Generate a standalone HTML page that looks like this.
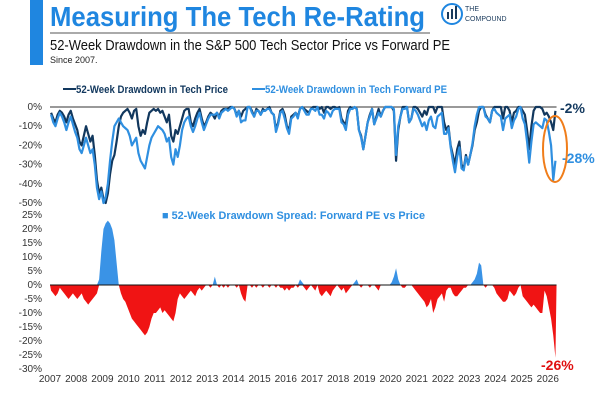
<!DOCTYPE html>
<html><head><meta charset="utf-8"><style>
body{margin:0;background:#fff;width:600px;height:400px;overflow:hidden;font-family:"Liberation Sans",sans-serif}
</style></head><body>
<svg width="600" height="400" xmlns="http://www.w3.org/2000/svg" style="font-family:'Liberation Sans',sans-serif">
<rect x="30" y="0" width="13" height="65" fill="#1f86e0"/>
<text x="50" y="26" font-size="28" font-weight="bold" fill="#1f86e0" textLength="375" lengthAdjust="spacingAndGlyphs">Measuring The Tech Re-Rating</text>
<line x1="50" y1="33" x2="430" y2="33" stroke="#555" stroke-width="1"/>
<g>
<circle cx="452" cy="14" r="10" fill="none" stroke="#1f86e0" stroke-width="2"/>
<rect x="447" y="12" width="2" height="7" fill="#1a3a5c"/><rect x="451" y="9" width="2" height="10" fill="#1a3a5c"/><rect x="455" y="6" width="2" height="13" fill="#1a3a5c"/>
<text x="465" y="11" font-size="7" fill="#1a3a5c">THE</text>
<text x="465" y="21" font-size="7" fill="#1a3a5c">COMPOUND</text>
</g>
<text x="50" y="50" font-size="15" fill="#111" textLength="400" lengthAdjust="spacingAndGlyphs">52-Week Drawdown in the S&amp;P 500 Tech Sector Price vs Forward PE</text>
<text x="50" y="63" font-size="9" fill="#222">Since 2007.</text>
<g>
<line x1="63" y1="89" x2="76" y2="89" stroke="#12385e" stroke-width="2"/>
<text x="76" y="93" font-size="11" font-weight="bold" fill="#12385e" textLength="152" lengthAdjust="spacingAndGlyphs">52-Week Drawdown in Tech Price</text>
<line x1="252" y1="89" x2="265" y2="89" stroke="#2f8fe0" stroke-width="2"/>
<text x="265" y="93" font-size="11" font-weight="bold" fill="#2f8fe0" textLength="182" lengthAdjust="spacingAndGlyphs">52-Week Drawdown in Tech Forward PE</text>
</g>
<text x="162" y="219" font-size="11" font-weight="bold" fill="#2f8fe0" textLength="263" lengthAdjust="spacingAndGlyphs">■ 52-Week Drawdown Spread: Forward PE vs Price</text>
<g id="g"></g>
<text x="560" y="113" font-size="14" font-weight="bold" fill="#12385e">-2%</text>
<text x="562" y="163" font-size="14" font-weight="bold" fill="#2f8fe0">-28%</text>
<text x="541" y="370" font-size="14" font-weight="bold" fill="#e01010">-26%</text>
<ellipse cx="555" cy="149" rx="12" ry="33" fill="none" stroke="#f07d1a" stroke-width="2"/>
</svg>
<script>
const years=['2007','2008','2009','2010','2011','2012','2013','2014','2015','2016','2017','2018','2019','2020','2021','2022','2023','2024','2025','2026'];
const topTicks=[0,-10,-20,-30,-40,-50];
const botTicks=[25,20,15,10,5,0,-5,-10,-15,-20,-25,-30];
const price=[-3,-6,-8,-4,-2,-3,-5,-8,-4,-2,-6,-9,
-12,-18,-20,-15,-10,-14,-18,-15,-25,-38,-45,-42,
-48,-50,-45,-35,-28,-25,-18,-10,-5,-3,-2,-1,
-3,-6,-2,-1,-10,-15,-12,-14,-8,-3,-2,-1,
-2,-1,-3,-2,-5,-8,-4,-15,-18,-12,-14,-10,
-6,-2,-1,-1,-8,-10,-6,-3,-1,-6,-10,-8,
-5,-3,-4,-6,-3,-5,-2,-1,-1,-1,0,0,
-1,-4,-2,-5,-2,-1,0,0,-2,-5,-1,-2,
-4,-1,-2,-1,0,-3,-4,-12,-8,-2,-1,-4,
-10,-12,-5,-4,-3,-5,-1,0,-1,-2,-3,-1,
0,0,0,-1,0,-3,0,0,-1,0,0,-1,
0,-6,-8,-9,-2,0,-1,0,-1,-12,-15,-22,
-15,-8,-4,-1,-9,-5,-1,-5,-2,0,0,0,
0,-2,-28,-12,-5,0,0,0,-8,-6,0,0,
-1,-3,-5,-2,-4,0,0,0,-3,0,0,0,
-8,-12,-10,-20,-25,-30,-22,-18,-30,-32,-25,-30,
-25,-20,-12,-8,-2,0,0,-4,-6,-8,-2,0,
0,0,0,-6,0,0,-2,-8,-3,-2,0,0,
-2,-4,-12,-22,-10,-2,0,0,0,-1,-4,-3,
-5,-8,-12,-2];
const forwardPE=[-4,-8,-10,-6,-3,-5,-8,-12,-8,-5,-9,-13,
-16,-22,-24,-20,-16,-20,-24,-22,-30,-42,-48,-44,
-50,-47,-40,-28,-18,-10,-8,-6,-8,-10,-11,-12,
-15,-20,-18,-16,-24,-28,-30,-32,-26,-20,-16,-14,
-12,-10,-11,-12,-14,-18,-16,-26,-30,-22,-26,-20,
-12,-8,-6,-5,-10,-13,-10,-6,-3,-8,-12,-9,
-6,-4,-4,-4,-3,-6,-3,-2,-1,-2,-1,0,
-1,-5,-2,-8,-7,-7,0,0,-3,-5,-2,-2,
-4,-2,-2,-1,-1,-3,-4,-13,-9,-3,-2,-6,
-11,-14,-6,-5,-3,-6,-1,0,-2,-4,-4,-1,
-1,-2,0,-4,-4,-6,-2,-3,-5,-2,-1,-1,
-1,-8,-9,-12,-4,-1,-1,0,-1,-12,-16,-22,
-15,-8,-5,-1,-9,-6,-3,-5,-2,0,0,0,
0,-1,-25,-10,-5,-1,-1,0,-8,-6,-1,-2,
-4,-7,-10,-8,-12,-7,-5,-10,-11,-5,-4,-3,
-14,-14,-11,-21,-28,-34,-26,-21,-32,-33,-26,-30,
-25,-19,-10,-4,0,0,0,-5,-6,-8,-2,-1,
-3,-4,-5,-12,-6,-5,-4,-11,-7,-5,-1,0,
-6,-9,-18,-29,-18,-9,-8,-9,-10,-11,-6,-7,
-13,-20,-38,-28];
const spread=[-2,-3,-4,-3,-1,-2,-3,-4,-5,-4,-3,-4,
-5,-4,-3,-5,-6,-7,-6,-5,-4,-3,2,12,
20,22,23,22,20,16,8,0,-3,-5,-6,-8,
-10,-12,-13,-14,-15,-16,-17,-18,-17,-15,-12,-10,
-10,-9,-8,-10,-9,-10,-11,-12,-13,-10,-5,-3,
-4,-5,-4,-3,-2,-3,-4,-2,-1,-2,-1,0,
0,-1,0,3,0,-1,0,-1,0,-1,0,0,
0,-1,0,-3,-5,-6,0,0,-1,0,-1,0,
0,-1,0,0,-1,0,0,-1,0,-1,-1,-2,
-1,-2,-1,-1,0,-1,2,1,-1,-2,-1,0,
-1,-2,0,-3,-4,-3,-2,-3,-4,-2,-1,0,
-1,-2,-1,-3,-2,-1,0,1,2,0,-1,0,
0,0,-1,0,0,-1,-2,0,0,0,0,0,
1,3,6,2,0,-1,-1,0,0,0,-1,-2,
-3,-4,-5,-6,-8,-7,-5,-10,-8,-5,-4,-3,
-6,-2,-1,-1,-3,-4,-4,-3,-2,-1,-1,0,
0,1,2,4,8,7,0,-1,0,0,0,-1,
-3,-4,-5,-6,-6,-5,-2,-3,-4,-3,-1,0,
-4,-5,-6,-7,-8,-7,-8,-9,-10,-10,-2,-4,
-8,-12,-18,-26];
const NS='http://www.w3.org/2000/svg',g=document.getElementById('g');
const X=t=>50+(t-2007)*26.2;
const yTop=v=>107-v*1.92;
const yBot=v=>285-v*2.8;
function mk(tag,at){const e=document.createElementNS(NS,tag);for(const k in at)e.setAttribute(k,at[k]);g.appendChild(e);return e;}
topTicks.forEach(v=>{const e=mk('text',{x:42,y:yTop(v)+3,'font-size':10,'text-anchor':'end',fill:'#333'});e.textContent=v+'%';

});
botTicks.forEach(v=>{const e=mk('text',{x:42,y:yBot(v)+3,'font-size':10,'text-anchor':'end',fill:'#333'});e.textContent=v+'%';

});
years.forEach((y,i)=>{const e=mk('text',{x:X(2007+i),y:382,'font-size':10,'text-anchor':'middle',fill:'#333'});e.textContent=y;

});
function area(sign,col,name){let pts=[X(2007)+','+yBot(0)];
spread.forEach((v,i)=>{const vv=sign>0?Math.max(v,0):Math.min(v,0);pts.push(X(2007+i/12+1/24)+','+yBot(vv));});
pts.push(X(2007+spread.length/12)+','+yBot(0));
const p=mk('polygon',{points:pts.join(' '),fill:col});

}
area(1,'#3a93e6','spread-positive-area');
area(-1,'#f01414','spread-negative-area');
const z=mk('line',{x1:50,x2:X(2007+spread.length/12),y1:yBot(0),y2:yBot(0),stroke:'#111','stroke-width':1});


const tz=mk('line',{x1:50,x2:X(2007+price.length/12),y1:yTop(0),y2:yTop(0),stroke:'#333','stroke-width':1});


function line(arr,col,name){const p=mk('polyline',{points:arr.map((v,i)=>X(2007+i/12+1/24)+','+yTop(v)).join(' '),fill:'none',stroke:col,'stroke-width':2.2,'stroke-linejoin':'round'});

}
line(price,'#12385e','price-drawdown-line');
line(forwardPE,'#2f8fe0','forward-pe-drawdown-line');
</script>
</body></html>
